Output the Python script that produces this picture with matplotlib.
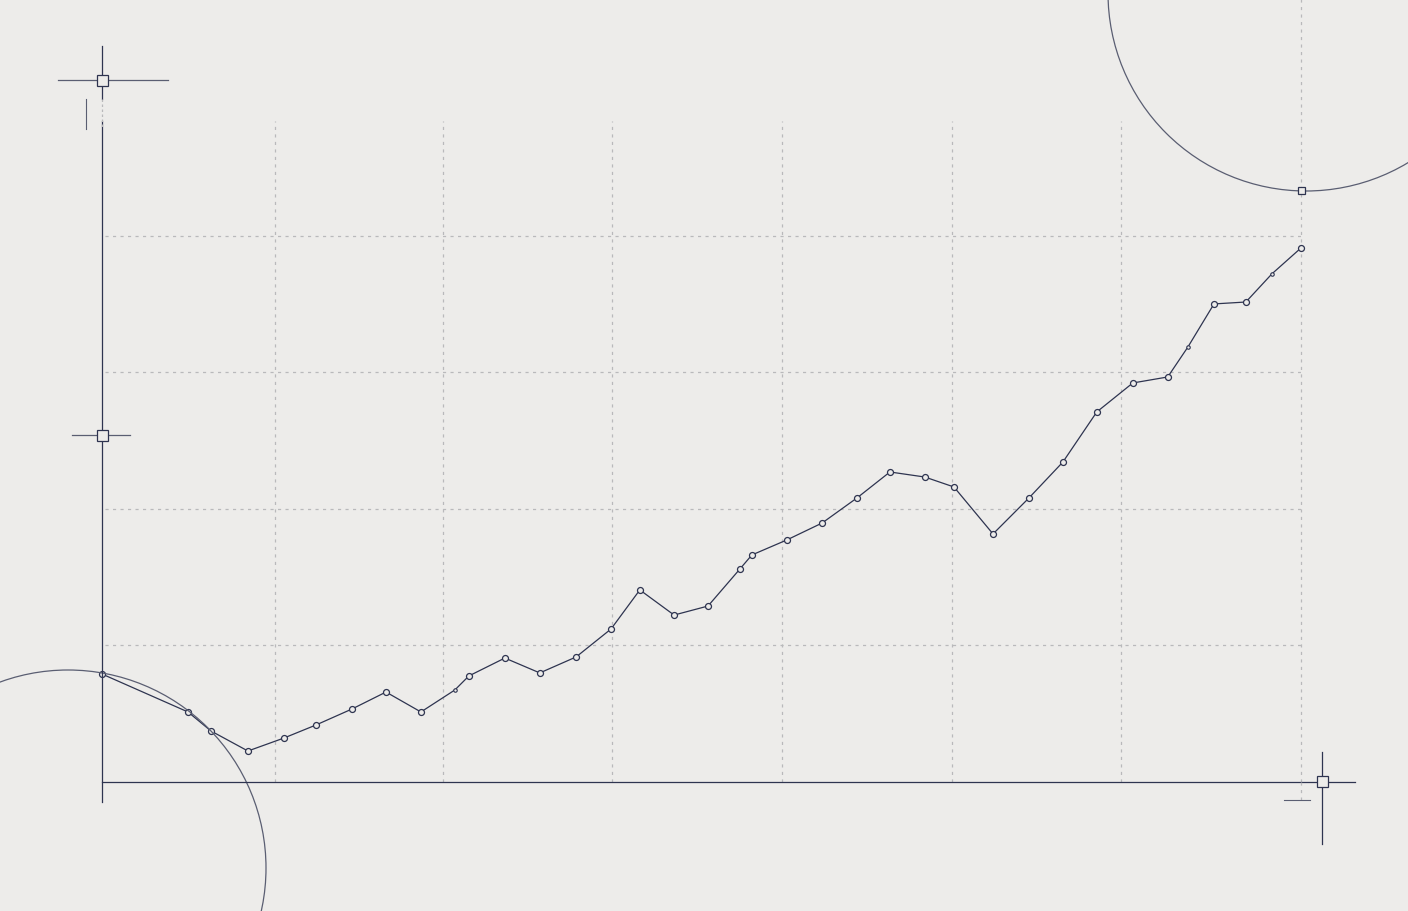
import numpy as np
import matplotlib
matplotlib.use("Agg")
import matplotlib.pyplot as plt
from matplotlib.patches import Circle, Rectangle

# series values (x in steps, y in grid units)
x_vals = [0.0, 2.51, 3.18, 4.26, 5.31, 6.25, 7.30, 8.29, 9.31, 10.30, 10.71, 11.76,
          12.78, 13.84, 14.86, 15.70, 16.70, 17.69, 18.62, 18.97, 19.99, 21.02,
          22.04, 23.00, 24.02, 24.87, 26.01, 27.06, 28.05, 29.04, 30.09, 31.11,
          31.70, 32.46, 33.39, 34.15, 35.00]
y_vals = [0.791, 0.513, 0.374, 0.227, 0.322, 0.418, 0.535, 0.659, 0.513, 0.674,
          0.777, 0.908, 0.799, 0.916, 1.121, 1.407, 1.223, 1.289, 1.560, 1.663,
          1.773, 1.897, 2.081, 2.271, 2.234, 2.161, 1.817, 2.081, 2.344, 2.711,
          2.923, 2.967, 3.187, 3.502, 3.516, 3.722, 3.912]
small_idx = [9, 32, 35]
x_grid = [5.05, 9.95, 14.9, 19.85, 24.8, 29.75, 35.0]
y_grid = [1, 2, 3, 4]

BG = "#edecea"
INK = "#2e3450"
SOFT = "#5a5e72"
GRID = "#b9b9bb"

W, H = 1408, 912
fig = plt.figure(figsize=(W / 100, H / 100), dpi=100, facecolor=BG)

# main plotting area
ax = fig.add_axes([102 / W, 1 - 783 / H, (1301 - 102) / W, (783 - 122) / H])
ax.set_facecolor("none")
ax.set_xlim(0, 35)
ax.set_ylim(0, 4.842)
for s in ax.spines.values():
    s.set_visible(False)
ax.set_xticks([])
ax.set_yticks([])

for gx in x_grid:
    ax.axvline(gx, color=GRID, lw=0.9, ls=(0, (2.5, 3.5)), zorder=1, clip_on=False)
for gy in y_grid:
    ax.plot([0.1, 35], [gy, gy], color=GRID, lw=0.9, ls=(0, (2.5, 3.5)), zorder=1)

ax.plot(x_vals, y_vals, color=INK, lw=0.9, zorder=3, clip_on=False)
big = [i for i in range(len(x_vals)) if i not in small_idx]
ax.plot([x_vals[i] for i in big], [y_vals[i] for i in big], ls="none",
        marker="o", ms=4.3, mfc=BG, mec=INK, mew=0.9, zorder=4, clip_on=False)
ax.plot([x_vals[i] for i in small_idx], [y_vals[i] for i in small_idx], ls="none",
        marker="o", ms=2.5, mfc=BG, mec=INK, mew=0.8, zorder=4, clip_on=False)

# decorative overlay in pixel space
ov = fig.add_axes([0, 0, 1, 1])
ov.set_xlim(0, W)
ov.set_ylim(H, 0)
ov.axis("off")
ov.patch.set_visible(False)

# axes lines
ov.plot([102, 102], [122, 803], color=INK, lw=0.9)
ov.plot([102, 1355], [783, 783], color=INK, lw=0.9)
ov.plot([102, 102], [47, 100], color=INK, lw=0.9)
ov.plot([102, 102], [100, 130], color=GRID, lw=0.9, ls=(0, (2, 2)))
ov.plot([86, 86], [100, 130], color=SOFT, lw=0.8)
ov.plot([1301, 1301], [0, 122], color=GRID, lw=0.9, ls=(0, (2.5, 3.5)))
ov.plot([1301, 1301], [783, 805], color=GRID, lw=0.9, ls=(0, (2.5, 3.5)))
ov.plot([1284, 1310], [801, 801], color=SOFT, lw=0.8)

# crosshairs
ov.plot([58, 168], [81, 81], color=SOFT, lw=0.9)
ov.plot([72, 130], [436, 436], color=SOFT, lw=0.9)
ov.plot([1322, 1322], [753, 845], color=INK, lw=0.9)
for cx, cy, sz in [(102, 81, 11), (102, 436, 11), (1322, 783, 11), (1301, 191, 7)]:
    ov.add_patch(Rectangle((cx - sz / 2, cy - sz / 2), sz, sz, fc=BG, ec=INK, lw=0.9, zorder=5))

# construction circles
ov.add_patch(Circle((68, 869), 198, fill=False, ec=SOFT, lw=0.9))
ov.add_patch(Circle((1306, -6), 198, fill=False, ec=SOFT, lw=0.9))

fig.savefig("out.png", dpi=100, facecolor=BG)
